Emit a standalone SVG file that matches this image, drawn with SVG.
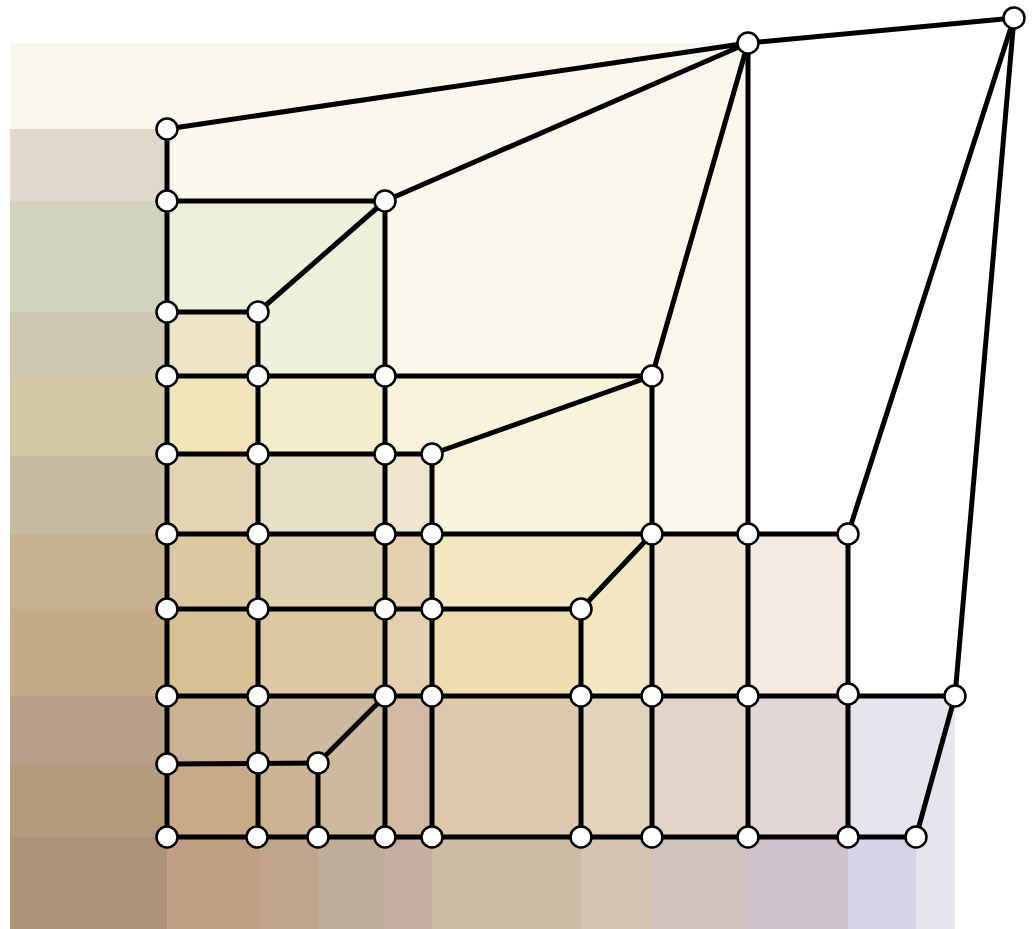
<svg xmlns="http://www.w3.org/2000/svg" width="1034" height="929" viewBox="0 0 1034 929">
<style>
.e{stroke:#000;stroke-width:5;fill:none;stroke-linecap:round}
.n{fill:#fff;stroke:#000;stroke-width:2.5}
</style>
<rect width="1034" height="929" fill="#fff"/>
<g id="background">
<rect x="10" y="43" width="738" height="491" fill="#FBF7EC"/>
<rect x="10" y="129" width="157" height="72" fill="#DFD9CD"/>
<rect x="10" y="201" width="157" height="111" fill="#D1D3BF"/>
<rect x="10" y="312" width="157" height="64" fill="#CEC6AF"/>
<rect x="10" y="376" width="157" height="80" fill="#D2C8A5"/>
<rect x="10" y="456" width="157" height="78" fill="#C8BCA0"/>
<rect x="10" y="534" width="157" height="75" fill="#C6B291"/>
<rect x="10" y="609" width="157" height="87" fill="#C4AA86"/>
<rect x="10" y="696" width="157" height="68" fill="#B8A088"/>
<rect x="10" y="764" width="157" height="73" fill="#B49B7E"/>
<rect x="10" y="837" width="157" height="92" fill="#AD9378"/>
<rect x="167" y="837" width="93" height="92" fill="#BFA084"/>
<rect x="260" y="837" width="58" height="92" fill="#C0A58C"/>
<rect x="318" y="837" width="67" height="92" fill="#C0AD99"/>
<rect x="385" y="837" width="47" height="92" fill="#C4AFA0"/>
<rect x="432" y="837" width="149" height="92" fill="#CEBBA6"/>
<rect x="581" y="837" width="71" height="92" fill="#D3C5B2"/>
<rect x="652" y="837" width="96" height="92" fill="#D1C2BF"/>
<rect x="748" y="837" width="100" height="92" fill="#CFC2CC"/>
<rect x="848" y="837" width="68" height="92" fill="#D5D4E6"/>
<rect x="916" y="837" width="39" height="92" fill="#E6E4EC"/>
<rect x="167" y="201" width="218" height="175" fill="#EFF0DC"/>
<rect x="167" y="312" width="91" height="64" fill="#EDE4C5"/>
<rect x="167" y="376" width="91" height="78" fill="#F0E4B9"/>
<rect x="258" y="376" width="127" height="78" fill="#F3EDCB"/>
<rect x="385" y="376" width="267" height="158" fill="#FAF3DC"/>
<rect x="385" y="454" width="47" height="80" fill="#F0E6D0"/>
<rect x="167" y="454" width="91" height="80" fill="#E3D5B3"/>
<rect x="258" y="454" width="127" height="80" fill="#E6DFC6"/>
<rect x="167" y="534" width="91" height="75" fill="#DCC8A0"/>
<rect x="258" y="534" width="127" height="75" fill="#DED1B1"/>
<rect x="385" y="534" width="47" height="162" fill="#E4D0B0"/>
<rect x="432" y="534" width="220" height="162" fill="#F3E6C2"/>
<rect x="432" y="609" width="149" height="87" fill="#EFDDB0"/>
<rect x="652" y="534" width="96" height="162" fill="#F2E5CF"/>
<rect x="748" y="534" width="100" height="162" fill="#F4EAE1"/>
<rect x="167" y="609" width="91" height="87" fill="#D7C093"/>
<rect x="258" y="609" width="127" height="87" fill="#DCC9A4"/>
<rect x="167" y="696" width="91" height="68" fill="#CCB294"/>
<rect x="258" y="696" width="127" height="141" fill="#CDB99D"/>
<rect x="167" y="764" width="91" height="73" fill="#C9AA88"/>
<rect x="258" y="764" width="60" height="73" fill="#CCB294"/>
<rect x="385" y="696" width="47" height="141" fill="#D4BAA5"/>
<rect x="432" y="696" width="149" height="141" fill="#DCC9AD"/>
<rect x="581" y="696" width="71" height="141" fill="#E1D4BA"/>
<rect x="652" y="696" width="96" height="141" fill="#E1D5CA"/>
<rect x="748" y="696" width="100" height="141" fill="#E1D7D6"/>
<rect x="848" y="696" width="107" height="141" fill="#E6E4EC"/>
</g>
<g id="connectors" class="e">
<line x1="748" y1="43" x2="1014" y2="18"/>
<line x1="748" y1="43" x2="167" y2="129"/>
<line x1="748" y1="43" x2="385" y2="201"/>
<line x1="748" y1="43" x2="652" y2="376"/>
<line x1="748" y1="43" x2="748" y2="837"/>
<line x1="1014" y1="18" x2="848" y2="534"/>
<line x1="1014" y1="18" x2="955" y2="696"/>
<line x1="167" y1="129" x2="167" y2="837"/>
<line x1="385" y1="201" x2="385" y2="837"/>
<line x1="258" y1="312" x2="258" y2="837"/>
<line x1="652" y1="376" x2="652" y2="837"/>
<line x1="432" y1="454" x2="432" y2="837"/>
<line x1="848" y1="534" x2="848" y2="837"/>
<line x1="581" y1="609" x2="581" y2="837"/>
<line x1="318" y1="763" x2="318" y2="837"/>
<line x1="167" y1="201" x2="385" y2="201"/>
<line x1="167" y1="312" x2="258" y2="312"/>
<line x1="258" y1="312" x2="385" y2="201"/>
<line x1="167" y1="376" x2="652" y2="376"/>
<line x1="167" y1="454" x2="432" y2="454"/>
<line x1="432" y1="454" x2="652" y2="376"/>
<line x1="167" y1="534" x2="848" y2="534"/>
<line x1="167" y1="609" x2="581" y2="609"/>
<line x1="581" y1="609" x2="652" y2="534"/>
<line x1="167" y1="696" x2="955" y2="696"/>
<line x1="385" y1="696" x2="318" y2="763"/>
<line x1="167" y1="764" x2="318" y2="763"/>
<line x1="167" y1="837" x2="916" y2="837"/>
<line x1="916" y1="837" x2="955" y2="696"/>
</g>
<g id="nodes" class="n">
<circle id="n1" cx="1014" cy="18" r="10.5"/>
<circle id="n2" cx="748" cy="43" r="10.5"/>
<circle id="n3" cx="167" cy="129" r="10.5"/>
<circle id="n4" cx="167" cy="201" r="10.5"/>
<circle id="n5" cx="385" cy="201" r="10.5"/>
<circle id="n6" cx="167" cy="312" r="10.5"/>
<circle id="n7" cx="258" cy="312" r="10.5"/>
<circle id="n8" cx="167" cy="376" r="10.5"/>
<circle id="n9" cx="258" cy="376" r="10.5"/>
<circle id="n10" cx="385" cy="376" r="10.5"/>
<circle id="n11" cx="652" cy="376" r="10.5"/>
<circle id="n12" cx="167" cy="454" r="10.5"/>
<circle id="n13" cx="258" cy="454" r="10.5"/>
<circle id="n14" cx="385" cy="454" r="10.5"/>
<circle id="n15" cx="432" cy="454" r="10.5"/>
<circle id="n16" cx="167" cy="534" r="10.5"/>
<circle id="n17" cx="258" cy="534" r="10.5"/>
<circle id="n18" cx="385" cy="534" r="10.5"/>
<circle id="n19" cx="432" cy="534" r="10.5"/>
<circle id="n20" cx="652" cy="534" r="10.5"/>
<circle id="n21" cx="748" cy="534" r="10.5"/>
<circle id="n22" cx="848" cy="534" r="10.5"/>
<circle id="n23" cx="167" cy="609" r="10.5"/>
<circle id="n24" cx="258" cy="609" r="10.5"/>
<circle id="n25" cx="385" cy="609" r="10.5"/>
<circle id="n26" cx="432" cy="609" r="10.5"/>
<circle id="n27" cx="581" cy="609" r="10.5"/>
<circle id="n28" cx="167" cy="696" r="10.5"/>
<circle id="n29" cx="258" cy="696" r="10.5"/>
<circle id="n30" cx="385" cy="696" r="10.5"/>
<circle id="n31" cx="432" cy="696" r="10.5"/>
<circle id="n32" cx="581" cy="696" r="10.5"/>
<circle id="n33" cx="652" cy="696" r="10.5"/>
<circle id="n34" cx="748" cy="696" r="10.5"/>
<circle id="n35" cx="848" cy="694" r="10.5"/>
<circle id="n36" cx="955" cy="696" r="10.5"/>
<circle id="n37" cx="167" cy="764" r="10.5"/>
<circle id="n38" cx="258" cy="763" r="10.5"/>
<circle id="n39" cx="318" cy="763" r="10.5"/>
<circle id="n40" cx="167" cy="837" r="10.5"/>
<circle id="n41" cx="257" cy="837" r="10.5"/>
<circle id="n42" cx="318" cy="837" r="10.5"/>
<circle id="n43" cx="385" cy="837" r="10.5"/>
<circle id="n44" cx="432" cy="837" r="10.5"/>
<circle id="n45" cx="581" cy="837" r="10.5"/>
<circle id="n46" cx="652" cy="837" r="10.5"/>
<circle id="n47" cx="748" cy="837" r="10.5"/>
<circle id="n48" cx="848" cy="837" r="10.5"/>
<circle id="n49" cx="916" cy="837" r="10.5"/>
</g>
</svg>
